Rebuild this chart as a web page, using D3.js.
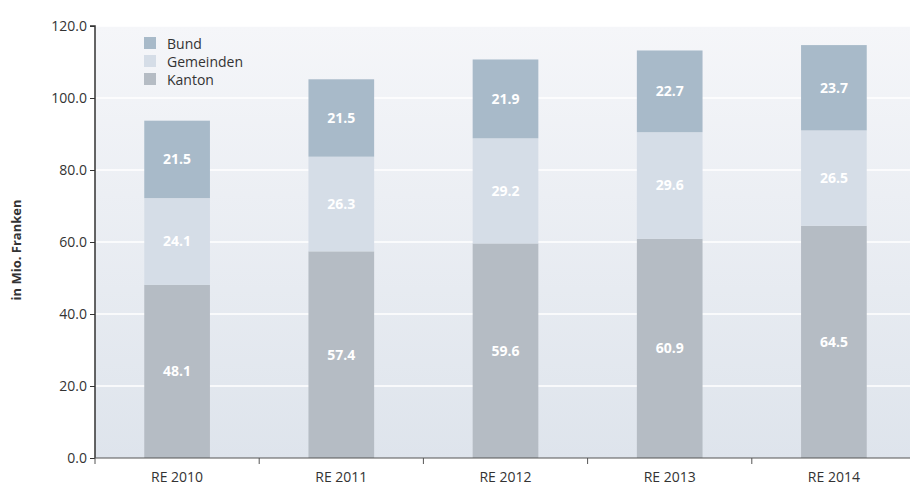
<!DOCTYPE html>
<html><head><meta charset="utf-8">
<script src="https://cdn.jsdelivr.net/npm/d3@7"></script>
<style>body{margin:0;background:#fff;} svg{display:block;font-family:"Open Sans","Noto Sans",sans-serif;}</style>
</head><body>
<svg id="c" width="910" height="489"></svg>
<script>
const categories = ["RE 2010","RE 2011","RE 2012","RE 2013","RE 2014"];
const kanton = [48.1,57.4,59.6,60.9,64.5];
const gemeinden = [24.1,26.3,29.2,29.6,26.5];
const bund = [21.5,21.5,21.9,22.7,23.7];
const yTicks = [0,20,40,60,80,100,120];
const seriesNames = ["Kanton","Gemeinden","Bund"];
const colors = {Kanton:"#b5bcc4", Gemeinden:"#d5dde7", Bund:"#a8bac9"};

const svg = d3.select("#c");
const L = 95, R = 916, T = 26, B = 458;
const x = d3.scaleBand().domain(categories).range([L, R]).paddingInner(0.6).paddingOuter(0.3);
const xb = d3.scaleBand().domain(categories).range([L, R]);
const y = d3.scaleLinear().domain([0,120]).range([B, T]);

const defs = svg.append("defs");
const g = defs.append("linearGradient").attr("id","bg").attr("x1",0).attr("y1",0).attr("x2",0).attr("y2",1);
g.append("stop").attr("offset","0%").attr("stop-color","#f5f6f9");
g.append("stop").attr("offset","100%").attr("stop-color","#dee4ec");
svg.append("rect").attr("x",L).attr("y",T).attr("width",R-L).attr("height",B-T).attr("fill","url(#bg)");

svg.append("g").selectAll("line").data(yTicks.slice(1)).join("line")
  .attr("x1",L).attr("x2",R).attr("y1",d=>y(d)).attr("y2",d=>y(d))
  .attr("stroke","#fff").attr("stroke-width",1.3);

const data = categories.map((c,i)=>({cat:c, Kanton:kanton[i], Gemeinden:gemeinden[i], Bund:bund[i]}));
const stacked = d3.stack().keys(seriesNames)(data);

const layers = svg.append("g").selectAll("g").data(stacked).join("g").attr("fill",d=>colors[d.key]);
layers.selectAll("rect").data(d=>d).join("rect")
  .attr("x",d=>x(d.data.cat)).attr("width",x.bandwidth())
  .attr("y",d=>y(d[1])).attr("height",d=>y(d[0])-y(d[1]));

const lab = svg.append("g").attr("fill","#fff").attr("font-weight","bold").attr("font-size",14).attr("text-anchor","middle");
stacked.forEach(s=>{
  s.forEach(d=>{
    lab.append("text").attr("x",x(d.data.cat)+x.bandwidth()/2).attr("y",(y(d[0])+y(d[1]))/2+5)
      .text((d[1]-d[0]).toFixed(1));
  });
});

// y axis
const ya = svg.append("g").attr("transform",`translate(${L},0)`)
  .call(d3.axisLeft(y).tickValues(yTicks).tickFormat(d3.format(".1f")).tickSize(5).tickPadding(3));
ya.select(".domain").attr("stroke","#333").attr("stroke-width",1.5).attr("d",`M-5,${T}H0V${B}`);
ya.selectAll(".tick line").attr("stroke","#333");
ya.selectAll("text").attr("font-size",14).attr("fill","#333").attr("font-family","'Open Sans','Noto Sans',sans-serif");

// x axis
const xa = svg.append("g").attr("transform",`translate(0,${B})`);
xa.append("line").attr("x1",L).attr("x2",910).attr("stroke","#555").attr("stroke-width",1.2);
xa.selectAll("line.t").data(categories).join("line").attr("class","t")
  .attr("x1",d=>xb(d)).attr("x2",d=>xb(d)).attr("y1",0).attr("y2",6).attr("stroke","#555");
xa.selectAll("text").data(categories).join("text")
  .attr("x",d=>xb(d)+xb.bandwidth()/2).attr("y",24).attr("text-anchor","middle")
  .attr("font-size",14).attr("fill","#333").text(d=>d);

svg.append("text").attr("transform",`translate(21,250) rotate(-90)`).attr("text-anchor","middle")
  .attr("font-size",13).attr("font-weight","bold").attr("fill","#333").text("in Mio. Franken");

// legend
const legendItems = ["Bund","Gemeinden","Kanton"];
const lg = svg.append("g");
legendItems.forEach((k,i)=>{
  lg.append("rect").attr("x",144).attr("y",37+i*18).attr("width",12).attr("height",12).attr("fill",colors[k]);
  lg.append("text").attr("x",167).attr("y",49+i*18).attr("font-size",14).attr("fill","#333").text(k);
});
</script>
</body></html>
